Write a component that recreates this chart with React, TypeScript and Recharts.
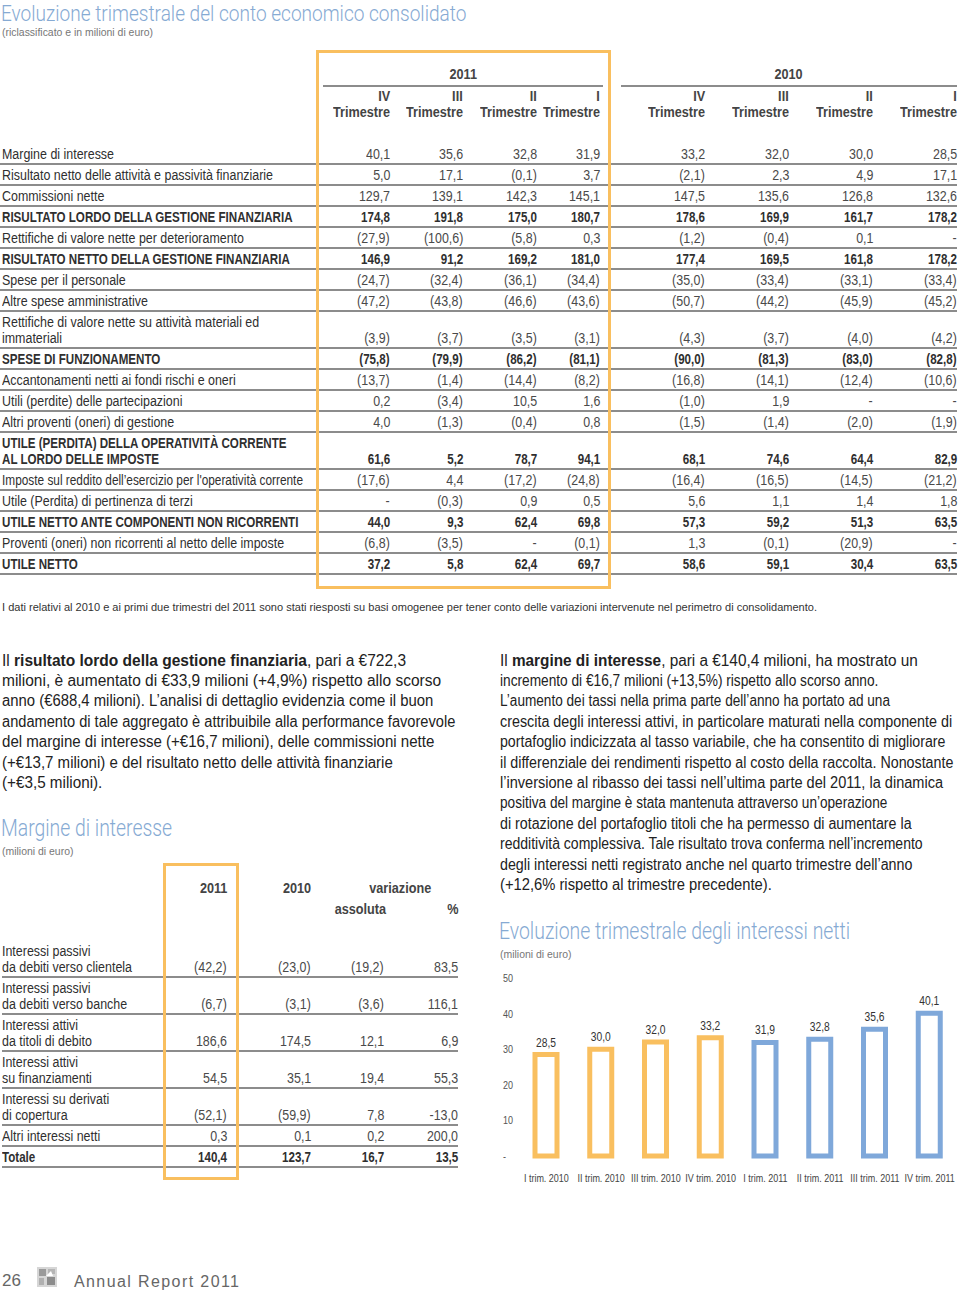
import React, { useLayoutEffect, useRef, useState } from "react";
import { BarChart, Bar, XAxis, YAxis, Cell, LabelList } from "recharts";

const FONT = '"Liberation Sans", Arial, sans-serif';
const TITLE_FONT = 'Roboto, "Liberation Sans", sans-serif';
const TITLE_BLUE = "#86aad3";
const ORANGE = "#f9bf5f";
const BLUE = "#7fa8da";
const TEXT = "#2f2f2f";
const VALUE = "#4a4a4a";
const RULE = "#8c8c8c";

// chart: net interest by quarter
const quarters = ["I trim. 2010", "II trim. 2010", "III trim. 2010", "IV trim. 2010", "I trim. 2011", "II trim. 2011", "III trim. 2011", "IV trim. 2011"];
const netInterest = [28.5, 30.0, 32.0, 33.2, 31.9, 32.8, 35.6, 40.1];
const yTicks = [0, 10, 20, 30, 40, 50];

// quarterly P&L table
const quarterNames = ["IV", "III", "II", "I"];
const plLabels = [
  "Margine di interesse",
  "Risultato netto delle attività e passività finanziarie",
  "Commissioni nette",
  "RISULTATO LORDO DELLA GESTIONE FINANZIARIA",
  "Rettifiche di valore nette per deterioramento",
  "RISULTATO NETTO DELLA GESTIONE FINANZIARIA",
  "Spese per il personale",
  "Altre spese amministrative",
  "Rettifiche di valore nette su attività materiali ed\nimmateriali",
  "SPESE DI FUNZIONAMENTO",
  "Accantonamenti netti ai fondi rischi e oneri",
  "Utili (perdite) delle partecipazioni",
  "Altri proventi (oneri) di gestione",
  "UTILE (PERDITA) DELLA OPERATIVITÀ CORRENTE\nAL LORDO DELLE IMPOSTE",
  "Imposte sul reddito dell’esercizio per l'operatività corrente",
  "Utile (Perdita) di pertinenza di terzi",
  "UTILE NETTO ANTE COMPONENTI NON RICORRENTI",
  "Proventi (oneri) non ricorrenti al netto delle imposte",
  "UTILE NETTO",
];
const plBold = [3, 5, 9, 13, 16, 18];
const q4_2011 = ["40,1", "5,0", "129,7", "174,8", "(27,9)", "146,9", "(24,7)", "(47,2)", "(3,9)", "(75,8)", "(13,7)", "0,2", "4,0", "61,6", "(17,6)", "-", "44,0", "(6,8)", "37,2"];
const q3_2011 = ["35,6", "17,1", "139,1", "191,8", "(100,6)", "91,2", "(32,4)", "(43,8)", "(3,7)", "(79,9)", "(1,4)", "(3,4)", "(1,3)", "5,2", "4,4", "(0,3)", "9,3", "(3,5)", "5,8"];
const q2_2011 = ["32,8", "(0,1)", "142,3", "175,0", "(5,8)", "169,2", "(36,1)", "(46,6)", "(3,5)", "(86,2)", "(14,4)", "10,5", "(0,4)", "78,7", "(17,2)", "0,9", "62,4", "-", "62,4"];
const q1_2011 = ["31,9", "3,7", "145,1", "180,7", "0,3", "181,0", "(34,4)", "(43,6)", "(3,1)", "(81,1)", "(8,2)", "1,6", "0,8", "94,1", "(24,8)", "0,5", "69,8", "(0,1)", "69,7"];
const q4_2010 = ["33,2", "(2,1)", "147,5", "178,6", "(1,2)", "177,4", "(35,0)", "(50,7)", "(4,3)", "(90,0)", "(16,8)", "(1,0)", "(1,5)", "68,1", "(16,4)", "5,6", "57,3", "1,3", "58,6"];
const q3_2010 = ["32,0", "2,3", "135,6", "169,9", "(0,4)", "169,5", "(33,4)", "(44,2)", "(3,7)", "(81,3)", "(14,1)", "1,9", "(1,4)", "74,6", "(16,5)", "1,1", "59,2", "(0,1)", "59,1"];
const q2_2010 = ["30,0", "4,9", "126,8", "161,7", "0,1", "161,8", "(33,1)", "(45,9)", "(4,0)", "(83,0)", "(12,4)", "-", "(2,0)", "64,4", "(14,5)", "1,4", "51,3", "(20,9)", "30,4"];
const q1_2010 = ["28,5", "17,1", "132,6", "178,2", "-", "178,2", "(33,4)", "(45,2)", "(4,2)", "(82,8)", "(10,6)", "-", "(1,9)", "82,9", "(21,2)", "1,8", "63,5", "-", "63,5"];

// interest margin table
const miLabels = [
  "Interessi passivi\nda debiti verso clientela",
  "Interessi passivi\nda debiti verso banche",
  "Interessi attivi\nda titoli di debito",
  "Interessi attivi\nsu finanziamenti",
  "Interessi su derivati\ndi copertura",
  "Altri interessi netti",
  "Totale",
];
const mi2011 = ["(42,2)", "(6,7)", "186,6", "54,5", "(52,1)", "0,3", "140,4"];
const mi2010 = ["(23,0)", "(3,1)", "174,5", "35,1", "(59,9)", "0,1", "123,7"];
const miVarAbs = ["(19,2)", "(3,6)", "12,1", "19,4", "7,8", "0,2", "16,7"];
const miVarPct = ["83,5", "116,1", "6,9", "55,3", "-13,0", "200,0", "13,5"];

const chartData = quarters.map((q, i) => ({ quarter: q, value: netInterest[i] }));
const fmt = (v: number) => v.toFixed(1).replace(".", ",");

// the report font is a condensed grotesque; squeeze Liberation Sans to the measured widths
const ctx = document.createElement("canvas").getContext("2d")!;
function textWidth(s: string, size: number, bold = false) {
  ctx.font = `${bold ? "700 " : ""}${size}px ${FONT}`;
  return ctx.measureText(s).width;
}
const SX_TABLE = 112 / textWidth("Margine di interesse", 14);
const SX_BOLD = 291 / textWidth("RISULTATO LORDO DELLA GESTIONE FINANZIARIA", 14, true);
const SX_HEAD = 57 / textWidth("Trimestre", 14, true);
const SX_SUB = 151 / textWidth("(riclassificato e in milioni di euro)", 11);
const SX_NOTE = 815 / textWidth("I dati relativi al 2010 e ai primi due trimestri del 2011 sono stati riesposti su basi omogenee per tener conto delle variazioni intervenute nel perimetro di consolidamento.", 11.5);
const SX_TICK = 45 / textWidth("I trim. 2010", 10.5);
const SX_LABEL = 20 / textWidth("28,5", 13);

type TxtProps = {
  x?: number; r?: number; cx?: number; y: number; size?: number; bold?: boolean; sx?: number;
  fit?: number; maxW?: number; weight?: number; family?: string; lh?: number;
  color?: string; ls?: number; children: React.ReactNode;
};

function Txt({ x, r, cx, y, size = 14, bold, sx, fit, maxW, weight, family = FONT, lh, color = TEXT, ls, children }: TxtProps) {
  const base = sx ?? (bold ? SX_BOLD : SX_TABLE);
  const ref = useRef<HTMLSpanElement>(null);
  const [k, setK] = useState(base);
  useLayoutEffect(() => {
    if (!ref.current || (fit === undefined && maxW === undefined)) return;
    const w = ref.current.offsetWidth;
    if (fit !== undefined) setK(fit / w);
    else if (maxW !== undefined) setK(Math.min(base, maxW / w));
  }, [fit, maxW, base]);
  const h = lh ?? Math.round(size * 1.3);
  const style: React.CSSProperties = {
    position: "absolute", top: y - h / 2, height: h, lineHeight: `${h}px`, fontSize: size,
    fontWeight: weight ?? (bold ? 700 : 400), color, whiteSpace: "nowrap", fontFamily: family, letterSpacing: ls,
  };
  let origin = "left";
  if (x !== undefined) style.left = x;
  if (r !== undefined) { style.right = 960 - r; style.textAlign = "right"; origin = "right"; }
  if (cx !== undefined) { style.left = cx - 300; style.width = 600; style.textAlign = "center"; origin = "center"; }
  return (
    <div style={style}>
      <span ref={ref} style={{ display: "inline-block", transform: `scaleX(${k})`, transformOrigin: origin }}>{children}</span>
    </div>
  );
}

function Rule({ x1, x2, y, h = 2, color = RULE }: { x1: number; x2: number; y: number; h?: number; color?: string }) {
  return <div style={{ position: "absolute", left: x1, top: y - h / 2, width: x2 - x1, height: h, background: color }} />;
}

function Box({ left, top, right, bottom }: { left: number; top: number; right: number; bottom: number }) {
  return <div style={{ position: "absolute", left, top, width: right - left, height: bottom - top, border: `3px solid ${ORANGE}`, boxSizing: "border-box" }} />;
}

function PlTable() {
  const cols = [q4_2011, q3_2011, q2_2011, q1_2011, q4_2010, q3_2010, q2_2010, q1_2010];
  const colRight = [390, 463, 537, 600, 705, 789, 873, 957];
  const tops: number[] = [];
  let t = 143;
  plLabels.forEach((l) => { tops.push(t); t += l.includes("\n") ? 37 : 21; });
  return (
    <>
      <Txt cx={463} y={74} bold sx={SX_HEAD} color="#444">2011</Txt>
      <Rule x1={323} x2={603} y={86} />
      <Txt cx={789} y={74} bold sx={SX_HEAD} color="#444">2010</Txt>
      <Rule x1={621} x2={957} y={86} />
      {colRight.map((r, i) => (
        <React.Fragment key={"h" + i}>
          <Txt r={r} y={96} bold sx={SX_HEAD} color="#444">{quarterNames[i % 4]}</Txt>
          <Txt r={r} y={112} bold sx={SX_HEAD} color="#444">Trimestre</Txt>
        </React.Fragment>
      ))}
      {plLabels.map((label, i) => {
        const lines = label.split("\n");
        const top = tops[i];
        const h = lines.length > 1 ? 37 : 21;
        const bold = plBold.includes(i);
        const vy = top + h - 10;
        return (
          <React.Fragment key={i}>
            {lines.map((ln, j) => (
              <Txt key={j} x={2} y={top + 11 + j * 16} bold={bold} maxW={301}>{ln}</Txt>
            ))}
            {cols.map((c, k) => (
              <Txt key={"v" + k} r={colRight[k]} y={vy} bold={bold} color={bold ? TEXT : VALUE}>{c[i]}</Txt>
            ))}
            <Rule x1={0} x2={957} y={top + h} />
          </React.Fragment>
        );
      })}
      <Box left={316} top={50} right={611} bottom={589} />
    </>
  );
}

function MiTable() {
  const colRight = [227, 311, 384, 458];
  const cols = [mi2011, mi2010, miVarAbs, miVarPct];
  const tops: number[] = [];
  let t = 940;
  miLabels.forEach((l) => { tops.push(t); t += l.includes("\n") ? 37 : 21; });
  return (
    <>
      <Txt r={227} y={888} bold sx={SX_HEAD} color="#444">2011</Txt>
      <Txt r={311} y={888} bold sx={SX_HEAD} color="#444">2010</Txt>
      <Txt cx={400} y={888} bold sx={SX_HEAD} color="#444">variazione</Txt>
      <Txt cx={360} y={909} bold sx={SX_HEAD} color="#444">assoluta</Txt>
      <Txt r={458} y={909} bold sx={SX_HEAD} color="#444">%</Txt>
      {miLabels.map((label, i) => {
        const lines = label.split("\n");
        const top = tops[i];
        const h = lines.length > 1 ? 37 : 21;
        const bold = i === miLabels.length - 1;
        return (
          <React.Fragment key={i}>
            {lines.map((ln, j) => (
              <Txt key={j} x={2} y={top + 11 + j * 16} bold={bold}>{ln}</Txt>
            ))}
            {cols.map((c, k) => (
              <Txt key={"v" + k} r={colRight[k]} y={top + h - 10} bold={bold} color={bold ? TEXT : VALUE}>{c[i]}</Txt>
            ))}
            <Rule x1={2} x2={458} y={top + h} />
          </React.Fragment>
        );
      })}
      <Box left={163} top={863} right={239} bottom={1180} />
    </>
  );
}

const leftPara: React.ReactNode[] = [
  <>Il <b>risultato lordo della gestione finanziaria</b>, pari a €722,3</>,
  <>milioni, è aumentato di €33,9 milioni (+4,9%) rispetto allo scorso</>,
  <>anno (€688,4 milioni). L’analisi di dettaglio evidenzia come il buon</>,
  <>andamento di tale aggregato è attribuibile alla performance favorevole</>,
  <>del margine di interesse (+€16,7 milioni), delle commissioni nette</>,
  <>(+€13,7 milioni) e del risultato netto delle attività finanziarie</>,
  <>(+€3,5 milioni).</>,
];
const leftEnds = [406, 441, 433, 455, 434, 393, 102];

const rightPara: React.ReactNode[] = [
  <>Il <b>margine di interesse</b>, pari a €140,4 milioni, ha mostrato un</>,
  <>incremento di €16,7 milioni (+13,5%) rispetto allo scorso anno.</>,
  <>L’aumento dei tassi nella prima parte dell’anno ha portato ad una</>,
  <>crescita degli interessi attivi, in particolare maturati nella componente di</>,
  <>portafoglio indicizzata al tasso variabile, che ha consentito di migliorare</>,
  <>il differenziale dei rendimenti rispetto al costo della raccolta. Nonostante</>,
  <>l’inversione al ribasso dei tassi nell’ultima parte del 2011, la dinamica</>,
  <>positiva del margine è stata mantenuta attraverso un’operazione</>,
  <>di rotazione del portafoglio titoli che ha permesso di aumentare la</>,
  <>redditività complessiva. Tale risultato trova conferma nell’incremento</>,
  <>degli interessi netti registrato anche nel quarto trimestre dell’anno</>,
  <>(+12,6% rispetto al trimestre precedente).</>,
];
const rightEnds = [918, 878, 890, 952, 945, 953, 943, 887, 912, 923, 912, 772];

function SvgText({ x, y, sx, anchor = "middle", size, fill, dy, children }: {
  x: number; y: number; sx: number; anchor?: "start" | "middle" | "end"; size: number; fill: string; dy?: string; children: React.ReactNode;
}) {
  return (
    <text transform={`translate(${x},${y}) scale(${sx},1)`} textAnchor={anchor} fontSize={size} fill={fill} fontFamily={FONT} dy={dy}>
      {children}
    </text>
  );
}

function InterestChart() {
  return (
    <div style={{ position: "absolute", left: 495, top: 965 }}>
      <BarChart width={465} height={230} data={chartData} margin={{ top: 13, right: 3, bottom: 9, left: 0 }}>
        <XAxis
          dataKey="quarter"
          axisLine={false}
          tickLine={false}
          interval={0}
          height={30}
          tickMargin={13}
          tick={(p: any) => (
            <SvgText x={p.x} y={p.y} sx={SX_TICK} size={10.5} fill="#444" dy="0.71em">{p.payload.value}</SvgText>
          )}
        />
        <YAxis
          domain={[0, 50]}
          ticks={yTicks}
          width={24}
          axisLine={false}
          tickLine={false}
          tick={(p: any) => (
            <SvgText x={8} y={p.y} sx={0.82} anchor="start" size={11} fill="#555" dy="0.355em">
              {p.payload.value === 0 ? "-" : p.payload.value}
            </SvgText>
          )}
        />
        <Bar dataKey="value" barSize={22} strokeWidth={5} isAnimationActive={false}>
          {chartData.map((_, i) => (
            <Cell key={i} fill="#ffffff" stroke={i < 4 ? ORANGE : BLUE} />
          ))}
          <LabelList
            dataKey="value"
            content={(p: any) => (
              <SvgText x={p.x + p.width / 2} y={p.y - 8} sx={SX_LABEL} size={13} fill="#333">{fmt(Number(p.value))}</SvgText>
            )}
          />
        </Bar>
      </BarChart>
    </div>
  );
}

function Logo() {
  return (
    <svg style={{ position: "absolute", left: 37, top: 1267 }} width={20} height={20}>
      <rect x={0} y={0} width={20} height={20} fill="#d6d6d6" />
      <rect x={2} y={2} width={7} height={7} fill="#9a9a9a" />
      <rect x={11} y={2} width={7} height={5} fill="#b5b5b5" />
      <rect x={2} y={11} width={5} height={7} fill="#b0b0b0" />
      <rect x={10} y={10} width={8} height={8} fill="#8c8c8c" />
      <path d="M9 9 L14 4 L16 9 Z" fill="#fff" />
    </svg>
  );
}

export default function App() {
  return (
    <div style={{ position: "absolute", left: 0, top: 0, width: 960, height: 1291, overflow: "hidden", background: "#fff", fontFamily: FONT }}>
      <Txt x={1} y={14} size={22} lh={28} fit={465} family={TITLE_FONT} weight={300} color={TITLE_BLUE}>Evoluzione trimestrale del conto economico consolidato</Txt>
      <Txt x={2} y={32} size={11} sx={SX_SUB} color="#777">(riclassificato e in milioni di euro)</Txt>
      <PlTable />
      <Txt x={2} y={607} size={11.5} sx={SX_NOTE} color="#333">
        I dati relativi al 2010 e ai primi due trimestri del 2011 sono stati riesposti su basi omogenee per tener conto delle variazioni intervenute nel perimetro di consolidamento.
      </Txt>

      {leftPara.map((ln, i) => (
        <Txt key={"l" + i} x={2} y={660 + i * 20.4} size={16} fit={leftEnds[i] - 2} color="#222">{ln}</Txt>
      ))}
      {rightPara.map((ln, i) => (
        <Txt key={"r" + i} x={500} y={660 + i * 20.4} size={16} fit={rightEnds[i] - 500} color="#222">{ln}</Txt>
      ))}

      <Txt x={1} y={829} size={23} lh={24} fit={171} family={TITLE_FONT} weight={300} color={TITLE_BLUE}>Margine di interesse</Txt>
      <Txt x={2} y={851} size={11} sx={SX_SUB} color="#777">(milioni di euro)</Txt>
      <MiTable />

      <Txt x={499} y={932} size={23} lh={24} fit={351} family={TITLE_FONT} weight={300} color={TITLE_BLUE}>Evoluzione trimestrale degli interessi netti</Txt>
      <Txt x={500} y={954} size={11} sx={SX_SUB} color="#777">(milioni di euro)</Txt>
      <InterestChart />

      <Txt x={2} y={1281} size={17} sx={1} color="#666">26</Txt>
      <Logo />
      <Txt x={74} y={1281} size={16} sx={1} color="#666" ls={1.4}>Annual Report 2011</Txt>
    </div>
  );
}
